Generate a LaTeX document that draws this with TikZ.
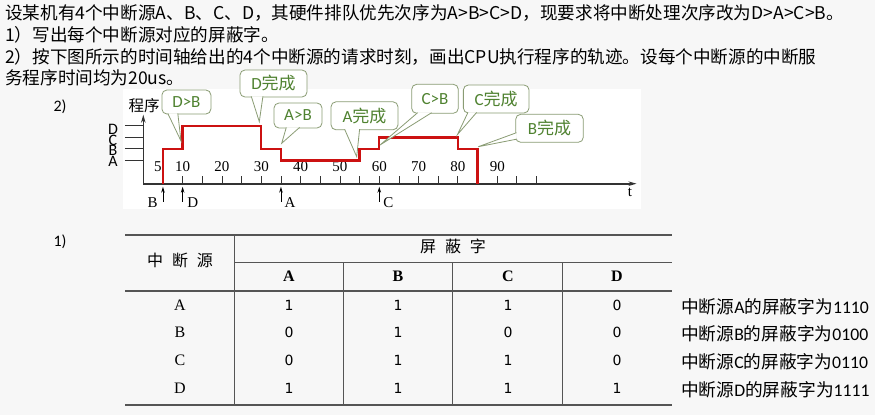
\documentclass[tikz,border=0pt]{standalone}
\usepackage{fontspec}
\setmainfont{Liberation Serif}
\newfontfamily\cjk{Noto Sans CJK SC}
\newfontfamily\cali{Carlito}
\newfontfamily\dvs{DejaVu Sans}
\usetikzlibrary{arrows.meta,calc}
\definecolor{bggray}{HTML}{F7F7F7}
\definecolor{trace}{HTML}{CC1111}
\definecolor{bubbleline}{HTML}{8A9C74}
\definecolor{bubbletext}{HTML}{4F8230}
\definecolor{rulegray}{HTML}{555555}
\definecolor{axisgray}{HTML}{333333}
\tikzset{
  line/.style={anchor=west, inner sep=0pt, font=\cjk\fontsize{17.6}{20}\selectfont},
  bubble/.style={draw=bubbleline, fill=white, rounded corners=5pt, line width=0.8pt,
    text=bubbletext, font=\cali\fontsize{17}{17}\selectfont, inner sep=0pt},
  axis/.style={draw=axisgray, line width=1.6pt, -{Stealth[length=8pt,width=4.5pt]}},
  tick/.style={draw=axisgray, line width=0.9pt},
  level/.style={draw=axisgray, line width=0.9pt},
  lvl/.style={inner sep=0pt, font=\cali\fontsize{16}{16}\selectfont},
  num/.style={inner sep=0pt, font=\fontsize{15}{15}\selectfont},
  request/.style={draw=black, line width=0.8pt, -{Stealth[length=6pt,width=3.5pt]}},
  rulethick/.style={draw=rulegray, line width=1.8pt},
  rulethin/.style={draw=rulegray, line width=1.3pt},
  cell/.style={inner sep=0pt, font=\dvs\fontsize{14}{14}\selectfont},
  rowhd/.style={inner sep=0pt, font=\fontsize{16}{16}\selectfont},
  colhd/.style={inner sep=0pt, font=\bfseries\fontsize{16}{16}\selectfont},
  note/.style={anchor=west, inner sep=0pt, font=\cjk\fontsize{17.7}{17.7}\selectfont},
}
% tail of a callout: base left, base right, tip
\newcommand\calltail[3]{%
  \fill[white] (#1) -- (#3) -- (#2) -- cycle;
  \draw[bubbleline, line width=0.8pt] (#1) -- (#3) -- (#2);
}
\begin{document}
\begin{tikzpicture}[x=1pt, y=-1pt]
\useasboundingbox (0,0) rectangle (875,415);
\fill[bggray] (0,0) rectangle (875,415);
\fill[white] (123,89) rectangle (641,209);

% question text
\node[line] (q1) at (5,13) {设某机有4个中断源A、B、C、D，其硬件排队优先次序为A>B>C>D，现要求将中断处理次序改为D>A>C>B。};
\node[line] (q2) at (5,35) {1）写出每个中断源对应的屏蔽字。};
\node[line] (q3) at (5,56.5) {2）按下图所示的时间轴给出的4个中断源的请求时刻，画出CPU执行程序的轨迹。设每个中断源的中断服};
\node[line] (q4) at (5,77.5) {务程序时间均为20us。};
\node[inner sep=0pt, font=\cali\fontsize{16}{16}\selectfont] (p2) at (60,106.7) {2)};
\node[inner sep=0pt, font=\cali\fontsize{16}{16}\selectfont] (p1) at (60,241.7) {1)};

% time chart
\node[inner sep=0pt, font=\cjk\fontsize{15.5}{15.5}\selectfont] (yl) at (144,105.7) {程序};
\node[num] (tl) at (630,192) {t};
\foreach \n/\y in {D/129.5,C/140,B/150.5,A/161}
  \node[lvl] (lab\n) at (113,\y) {\n};
\begin{scope}[shift={(143.3,183.7)}, x=3.933pt, y=11.6pt]
  \coordinate (o) at (0,0);
  \coordinate (tend) at (125.4,0);
  \coordinate (pend) at (0,5.95);
  \draw[axis] (o) -- (tend);
  \draw[axis] (o) -- (pend);
  \foreach \t in {5,10,...,100}
    \draw[tick] (\t,0) -- (\t,0.69);
  \foreach \t in {10,20,...,90}
    \node[num] (n\t) at (\t,1.44) {\t};
  \node[num] (n5) at (3.7,1.44) {5};
  \foreach \l in {2,3,4,5}
    \draw[level] (-4.7,\l) -- (0,\l);
  % program trace
  \draw[trace, line width=2.4pt] (5,0) -- (5,3) -- (10,3) -- (10,5) -- (30,5) -- (30,3)
    -- (35,3) -- (35,2) -- (55,2) -- (55,3) -- (60,3) -- (60,4) -- (80,4) -- (80,3)
    -- (85,3) -- (85,0);
  % requests
  \foreach \t in {5,10,35,60}
    \draw[request] (\t,-1.55) -- (\t,-0.26);
  \node[num] (rB) at (2.4,-1.66) {B};
  \node[num] (rD) at (12.6,-1.66) {D};
  \node[num] (rA) at (37.3,-1.66) {A};
  \node[num] (rC) at (62.3,-1.66) {C};
\end{scope}

% callouts
\coordinate (dbtip) at (181,141);
\coordinate (ddtip) at (259.3,121.7);
\coordinate (abtip) at (281.7,143.3);
\coordinate (adtip) at (356.7,156.7);
\coordinate (cbtip) at (380,145);
\coordinate (cdtip) at (457.5,134.5);
\coordinate (bdtip) at (478.3,146.7);
\node[bubble, minimum width=49pt, minimum height=24pt] (db) at (186.4,102) {D>B};
\node[bubble, minimum width=67pt, minimum height=27pt] (dd) at (273.5,83.5) {D{\cjk 完成}};
\node[bubble, minimum width=48pt, minimum height=25pt] (ab) at (298,115.5) {A>B};
\node[bubble, minimum width=67pt, minimum height=28pt] (ad) at (364.5,115.8) {A{\cjk 完成}};
\node[bubble, minimum width=46.6pt, minimum height=29pt] (cb) at (435,98.8) {C>B};
\node[bubble, minimum width=65.7pt, minimum height=28pt] (cd) at (496.2,99) {C{\cjk 完成}};
\node[bubble, minimum width=67.6pt, minimum height=28pt] (bd) at (549.5,128.3) {B{\cjk 完成}};
\calltail{$(db.south west)+(6.3,-1)$}{$(db.south west)+(16.3,-1)$}{dbtip}
\calltail{$(dd.south west)+(11.7,-1)$}{$(dd.south west)+(23.3,-1)$}{ddtip}
\calltail{$(ab.south west)+(12.7,-1)$}{$(ab.south west)+(26,-1)$}{abtip}
\calltail{$(ad.south west)+(14,-1)$}{$(ad.south west)+(29,-1)$}{adtip}
\calltail{$(cb.south west)+(6.3,-1)$}{$(cb.south west)+(20.3,-1)$}{cbtip}
\calltail{$(cd.south west)+(5,-1)$}{$(cd.south west)+(13.7,-1)$}{cdtip}
\calltail{$(bd.south west)+(1.2,-10)$}{$(bd.south west)+(1.2,-3.5)$}{bdtip}

% mask table
\draw[rulethick] (125,235) -- (672,235);
\draw[rulethin] (234.3,262.7) -- (672,262.7);
\draw[rulethin] (125,291) -- (672,291);
\draw[rulethick] (125,405) -- (672,405);
\draw[rulethin] (234.3,235) -- (234.3,405);
\foreach \x in {343.3,452.7,562.7}
  \draw[rulethin] (\x,262.7) -- (\x,405);
\node[inner sep=0pt, font=\cjk\fontsize{16}{16}\selectfont] (hsrc) at (180,260) {中\hspace{0.55em}断\hspace{0.55em}源};
\node[inner sep=0pt, font=\cjk\fontsize{16}{16}\selectfont] (hmask) at (453,246.7) {屏\hspace{0.55em}蔽\hspace{0.55em}字};
\foreach \n/\x in {A/289,B/398,C/508,D/617}
  \node[colhd] (h\n) at (\x,276) {\n};
\foreach \r/\y/\a/\b/\c/\d in {A/305/1/1/1/0,B/332.5/0/1/0/0,C/360.5/0/1/1/0,D/388.3/1/1/1/1}{
  \node[rowhd] (s\r) at (180,\y) {\r};
  \node[cell] (c\r A) at (289,\y) {\a};
  \node[cell] (c\r B) at (398,\y) {\b};
  \node[cell] (c\r C) at (508,\y) {\c};
  \node[cell] (c\r D) at (617,\y) {\d};
  \node[note] (m\r) at (681,\y+1.5) {中断源{\cali\r}的屏蔽字为{\cali\a\b\c\d}};
}
\end{tikzpicture}
\end{document}
